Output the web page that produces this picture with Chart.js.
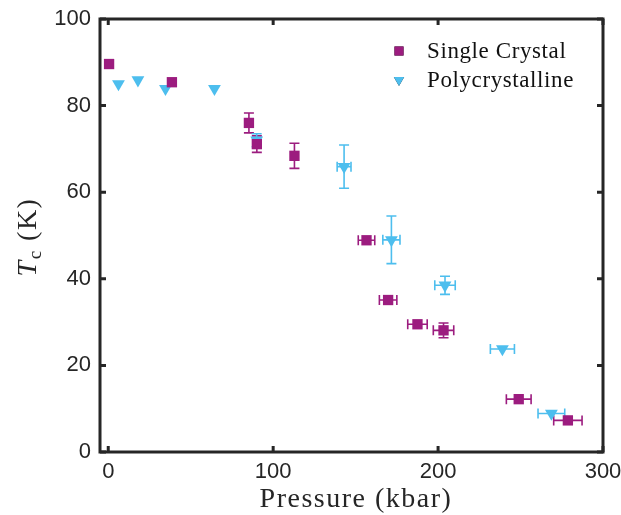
<!DOCTYPE html>
<html>
<head>
<meta charset="utf-8">
<script src="https://cdn.jsdelivr.net/npm/chart.js@4.4.0/dist/chart.umd.min.js"></script>
<style>
    html, body { margin: 0; padding: 0; background: #fff; }
</style>
</head>
<body>
<canvas id="tcChart" width="621" height="515"></canvas>
<script>
// Single crystal data
const singlePressure = [0.5, 38.6, 85.3, 90.1, 112.9, 156.6, 169.7, 187.5, 203.3, 248.9, 278.7];
const singlePressureErr = [0, 0, 0, 0, 0, 5, 5.3, 5.9, 6.2, 7.5, 8.6];
const singleTc = [89.6, 85.4, 76.0, 71.1, 68.4, 48.9, 35.1, 29.5, 28.1, 12.2, 7.3];
const singleTcErr = [0, 0, 2.3, 1.9, 2.9, 0, 0, 0, 1.7, 0, 0];

// Polycrystalline data
const polyPressure = [6.2, 18, 34.7, 64.4, 90, 143, 171.7, 204.2, 239, 268.7];
const polyPressureErr = [0, 0, 0, 0, 0, 4.2, 5.2, 6.2, 7.3, 8.1];
const polyTc = [85.0, 85.9, 83.9, 83.9, 72.0, 65.9, 49.0, 38.5, 23.8, 8.9];
const polyTcErr = [0, 0, 0, 0, 1.5, 5.0, 5.5, 2.1, 0, 0];

// Axis ticks
const xTicks = [0, 100, 200, 300];
const yTicks = [0, 20, 40, 60, 80, 100];

const purple = '#9C1C7F';
const blue = '#4DBEEE';
const axisColor = '#262626';
const serif = '"Liberation Serif", serif';

function toPoints(xs, ys) {
    return xs.map((x, i) => ({ x: x, y: ys[i] }));
}

// Error bars drawn under the markers
const errorBarPlugin = {
    id: 'errorBars',
    beforeDatasetsDraw(chart) {
        const ctx = chart.ctx;
        const xs = chart.scales.x;
        const ys = chart.scales.y;
        chart.data.datasets.forEach(ds => {
            ctx.save();
            ctx.strokeStyle = ds.borderColor;
            ctx.lineWidth = 1.6;
            const cap = 5;
            ds.data.forEach((pt, i) => {
                const px = xs.getPixelForValue(pt.x);
                const py = ys.getPixelForValue(pt.y);
                const ey = ds.yErr[i];
                const ex = ds.xErr[i];
                if (ey > 0) {
                    const y1 = ys.getPixelForValue(pt.y + ey);
                    const y2 = ys.getPixelForValue(pt.y - ey);
                    ctx.beginPath();
                    ctx.moveTo(px, y1); ctx.lineTo(px, y2);
                    ctx.moveTo(px - cap, y1); ctx.lineTo(px + cap, y1);
                    ctx.moveTo(px - cap, y2); ctx.lineTo(px + cap, y2);
                    ctx.stroke();
                }
                if (ex > 0) {
                    const x1 = xs.getPixelForValue(pt.x - ex);
                    const x2 = xs.getPixelForValue(pt.x + ex);
                    ctx.beginPath();
                    ctx.moveTo(x1, py); ctx.lineTo(x2, py);
                    ctx.moveTo(x1, py - cap); ctx.lineTo(x1, py + cap);
                    ctx.moveTo(x2, py - cap); ctx.lineTo(x2, py + cap);
                    ctx.stroke();
                }
            });
            ctx.restore();
        });
    }
};

// Box, inward ticks, axis titles and legend
const framePlugin = {
    id: 'frame',
    afterDraw(chart) {
        const ctx = chart.ctx;
        const a = chart.chartArea;
        const xs = chart.scales.x;
        const ys = chart.scales.y;
        ctx.save();
        ctx.strokeStyle = axisColor;
        ctx.lineWidth = 3;
        ctx.strokeRect(a.left, a.top, a.right - a.left, a.bottom - a.top);

        const tl = 6;
        ctx.beginPath();
        xTicks.forEach(v => {
            const px = xs.getPixelForValue(v);
            ctx.moveTo(px, a.bottom); ctx.lineTo(px, a.bottom - tl);
            ctx.moveTo(px, a.top); ctx.lineTo(px, a.top + tl);
        });
        yTicks.forEach(v => {
            const py = ys.getPixelForValue(v);
            ctx.moveTo(a.left, py); ctx.lineTo(a.left + tl, py);
            ctx.moveTo(a.right, py); ctx.lineTo(a.right - tl, py);
        });
        ctx.stroke();

        // x axis title
        ctx.fillStyle = axisColor;
        ctx.font = '28px ' + serif;
        ctx.letterSpacing = '1.5px';
        ctx.textAlign = 'center';
        ctx.textBaseline = 'alphabetic';
        ctx.fillText('Pressure (kbar)', 356, 507);

        // y axis title: T_c (K)
        ctx.textAlign = 'left';
        ctx.translate(36, 237);
        ctx.rotate(-Math.PI / 2);
        const big = '28px ' + serif;
        const italic = 'italic 28px ' + serif;
        const small = '19px ' + serif;
        ctx.font = italic;
        const wT = ctx.measureText('T').width;
        ctx.font = small;
        const wc = ctx.measureText('c').width;
        ctx.font = big;
        const wK = ctx.measureText(' (K)').width;
        let x0 = -(wT + wc + wK) / 2;
        ctx.font = italic;
        ctx.fillText('T', x0, 0);
        x0 += wT;
        ctx.font = small;
        ctx.fillText('c', x0, 5);
        x0 += wc;
        ctx.font = big;
        ctx.fillText(' (K)', x0, 0);
        ctx.restore();

        // Legend
        ctx.save();
        ctx.font = '23px ' + serif;
        ctx.letterSpacing = '0.6px';
        ctx.textBaseline = 'middle';
        const rows = [51, 80];
        chart.data.datasets.forEach((ds, i) => {
            Chart.helpers.drawPoint(ctx, {
                pointStyle: ds.pointStyle,
                radius: ds.legendRadius,
                rotation: ds.pointRotation,
                borderWidth: 0
            }, 399, rows[i]);
            ctx.fillStyle = ds.backgroundColor;
            ctx.fill();
            ctx.fillStyle = '#111';
            ctx.fillText(ds.label, 427, rows[i] + 1);
        });
        ctx.restore();
    }
};

const ctx = document.getElementById('tcChart').getContext('2d');
const tcChart = new Chart(ctx, {
    type: 'scatter',
    data: {
        datasets: [
            {
                label: 'Single Crystal',
                data: toPoints(singlePressure, singleTc),
                xErr: singlePressureErr,
                yErr: singleTcErr,
                pointStyle: 'rect',
                pointRadius: 7.3,
                pointRotation: 0,
                legendRadius: 6.4,
                backgroundColor: purple,
                borderColor: purple,
                borderWidth: 0
            },
            {
                label: 'Polycrystalline',
                data: toPoints(polyPressure, polyTc),
                xErr: polyPressureErr,
                yErr: polyTcErr,
                pointStyle: 'triangle',
                pointRadius: 7.4,
                pointRotation: 180,
                legendRadius: 6,
                backgroundColor: blue,
                borderColor: blue,
                borderWidth: 0
            }
        ]
    },
    options: {
        responsive: false,
        animation: false,
        layout: { padding: { left: 0, right: 18, top: 19, bottom: 0 } },
        plugins: {
            legend: { display: false },
            tooltip: { enabled: false }
        },
        scales: {
            x: {
                type: 'linear',
                min: -5,
                max: 300,
                afterBuildTicks: scale => { scale.ticks = xTicks.map(v => ({ value: v })); },
                afterFit: scale => {
                    scale.height = 63;
                    scale.paddingLeft = 0;
                    scale.paddingRight = 0;
                },
                grid: { display: false, drawTicks: false },
                border: { display: false },
                ticks: {
                    padding: 7,
                    color: axisColor,
                    font: { family: '"Liberation Sans", Arial, sans-serif', size: 22 }
                }
            },
            y: {
                type: 'linear',
                min: 0,
                max: 100,
                afterBuildTicks: scale => { scale.ticks = yTicks.map(v => ({ value: v })); },
                afterFit: scale => {
                    scale.width = 100;
                    scale.paddingTop = 0;
                    scale.paddingBottom = 0;
                },
                grid: { display: false, drawTicks: false },
                border: { display: false },
                ticks: {
                    padding: 9,
                    color: axisColor,
                    font: { family: '"Liberation Sans", Arial, sans-serif', size: 22 }
                }
            }
        }
    },
    plugins: [errorBarPlugin, framePlugin]
});
</script>
</body>
</html>
